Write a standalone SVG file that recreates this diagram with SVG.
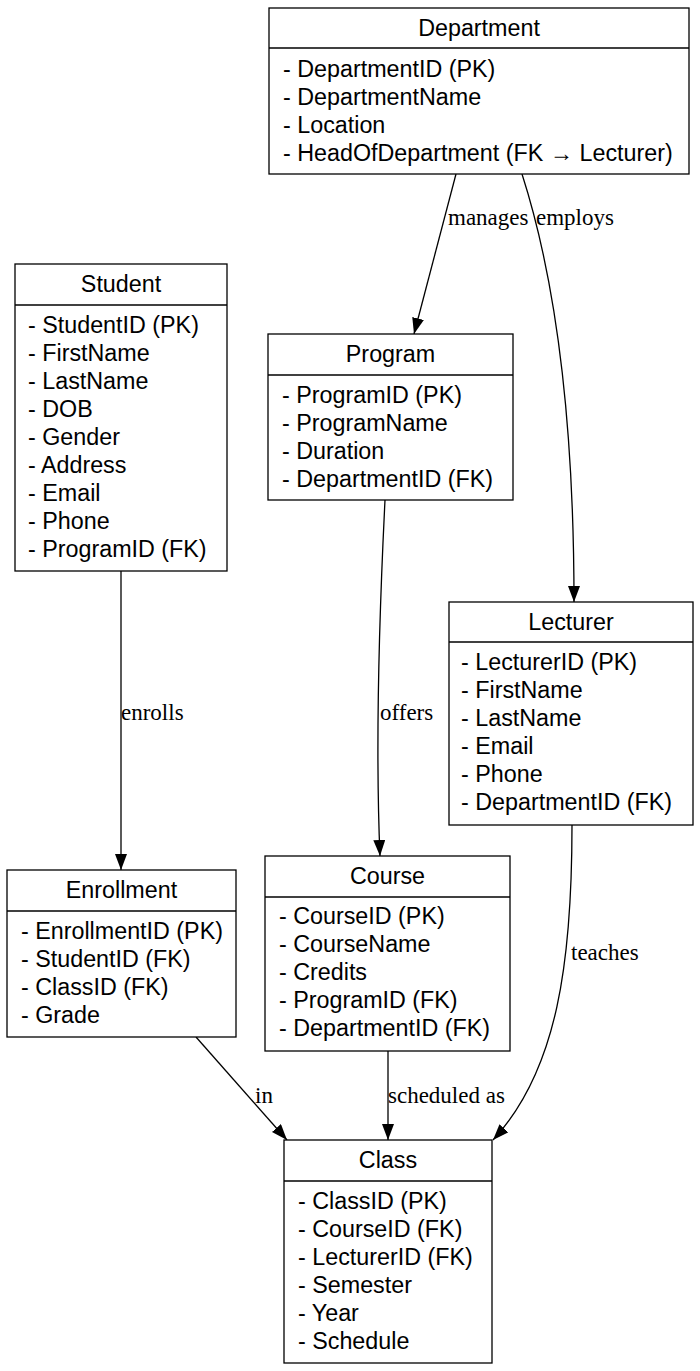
<svg xmlns="http://www.w3.org/2000/svg" width="700" height="1371" viewBox="0 0 700 1371">
<style>
.box{fill:#fff;stroke:#000;stroke-width:1.3}
.sep{stroke:#000;stroke-width:1.3}
.t{font-family:"Liberation Sans",Arial,sans-serif;font-size:23.3px;fill:#000}
.c{text-anchor:middle}
.e{fill:none;stroke:#000;stroke-width:1.3}
.l{font-family:"Liberation Serif","Times New Roman",serif;font-size:23px;fill:#000}
</style>
<defs>
<marker id="ah" markerUnits="userSpaceOnUse" markerWidth="16" markerHeight="12" refX="16" refY="6" orient="auto">
<path d="M0,0 L16,6 L0,12 z" fill="#000"/>
</marker>
</defs>
<rect width="700" height="1371" fill="#fff"/>
<g id="connectors">
<path class="e" d="M456,174 L414,334" marker-end="url(#ah)"/>
<path class="e" d="M522,174 C556,280 574,420 574,602" marker-end="url(#ah)"/>
<path class="e" d="M121,571 L121,870" marker-end="url(#ah)"/>
<path class="e" d="M385,500 C379,620 375,740 380,856" marker-end="url(#ah)"/>
<path class="e" d="M572,825 C572,960 558,1070 493,1140" marker-end="url(#ah)"/>
<path class="e" d="M196,1037 L287,1140" marker-end="url(#ah)"/>
<path class="e" d="M388,1051 L388,1140" marker-end="url(#ah)"/>
<text class="l" x="448" y="225">manages</text>
<text class="l" x="536" y="225">employs</text>
<text class="l" x="121" y="720">enrolls</text>
<text class="l" x="380" y="720">offers</text>
<text class="l" x="571" y="960">teaches</text>
<text class="l" x="255" y="1103">in</text>
<text class="l" x="388" y="1103">scheduled as</text>
</g>
<g id="department">
<rect class="box" x="269" y="8" width="420" height="166"/>
<line class="sep" x1="269" y1="48" x2="689" y2="48"/>
<text class="t c" x="479" y="36">Department</text>
<text class="t" x="283" y="77">- DepartmentID (PK)</text>
<text class="t" x="283" y="105">- DepartmentName</text>
<text class="t" x="283" y="133">- Location</text>
<text class="t" x="283" y="161">- HeadOfDepartment (FK → Lecturer)</text>
</g>
<g id="student">
<rect class="box" x="15" y="264" width="212" height="307"/>
<line class="sep" x1="15" y1="305" x2="227" y2="305"/>
<text class="t c" x="121" y="292">Student</text>
<text class="t" x="28" y="333">- StudentID (PK)</text>
<text class="t" x="28" y="361">- FirstName</text>
<text class="t" x="28" y="389">- LastName</text>
<text class="t" x="28" y="417">- DOB</text>
<text class="t" x="28" y="445">- Gender</text>
<text class="t" x="28" y="473">- Address</text>
<text class="t" x="28" y="501">- Email</text>
<text class="t" x="28" y="529">- Phone</text>
<text class="t" x="28" y="557">- ProgramID (FK)</text>
</g>
<g id="program">
<rect class="box" x="268" y="334" width="245" height="166"/>
<line class="sep" x1="268" y1="375" x2="513" y2="375"/>
<text class="t c" x="390.5" y="362">Program</text>
<text class="t" x="282" y="403">- ProgramID (PK)</text>
<text class="t" x="282" y="431">- ProgramName</text>
<text class="t" x="282" y="459">- Duration</text>
<text class="t" x="282" y="487">- DepartmentID (FK)</text>
</g>
<g id="lecturer">
<rect class="box" x="449" y="602" width="244" height="223"/>
<line class="sep" x1="449" y1="642" x2="693" y2="642"/>
<text class="t c" x="571" y="630">Lecturer</text>
<text class="t" x="461" y="670">- LecturerID (PK)</text>
<text class="t" x="461" y="698">- FirstName</text>
<text class="t" x="461" y="726">- LastName</text>
<text class="t" x="461" y="754">- Email</text>
<text class="t" x="461" y="782">- Phone</text>
<text class="t" x="461" y="810">- DepartmentID (FK)</text>
</g>
<g id="enrollment">
<rect class="box" x="7" y="870" width="229" height="167"/>
<line class="sep" x1="7" y1="911" x2="236" y2="911"/>
<text class="t c" x="121.5" y="898">Enrollment</text>
<text class="t" x="21" y="939">- EnrollmentID (PK)</text>
<text class="t" x="21" y="967">- StudentID (FK)</text>
<text class="t" x="21" y="995">- ClassID (FK)</text>
<text class="t" x="21" y="1023">- Grade</text>
</g>
<g id="course">
<rect class="box" x="265" y="856" width="245" height="195"/>
<line class="sep" x1="265" y1="897" x2="510" y2="897"/>
<text class="t c" x="387.5" y="884">Course</text>
<text class="t" x="279" y="924">- CourseID (PK)</text>
<text class="t" x="279" y="952">- CourseName</text>
<text class="t" x="279" y="980">- Credits</text>
<text class="t" x="279" y="1008">- ProgramID (FK)</text>
<text class="t" x="279" y="1036">- DepartmentID (FK)</text>
</g>
<g id="class">
<rect class="box" x="284" y="1140" width="208" height="223"/>
<line class="sep" x1="284" y1="1181" x2="492" y2="1181"/>
<text class="t c" x="388" y="1168">Class</text>
<text class="t" x="298" y="1209">- ClassID (PK)</text>
<text class="t" x="298" y="1237">- CourseID (FK)</text>
<text class="t" x="298" y="1265">- LecturerID (FK)</text>
<text class="t" x="298" y="1293">- Semester</text>
<text class="t" x="298" y="1321">- Year</text>
<text class="t" x="298" y="1349">- Schedule</text>
</g>
</svg>
